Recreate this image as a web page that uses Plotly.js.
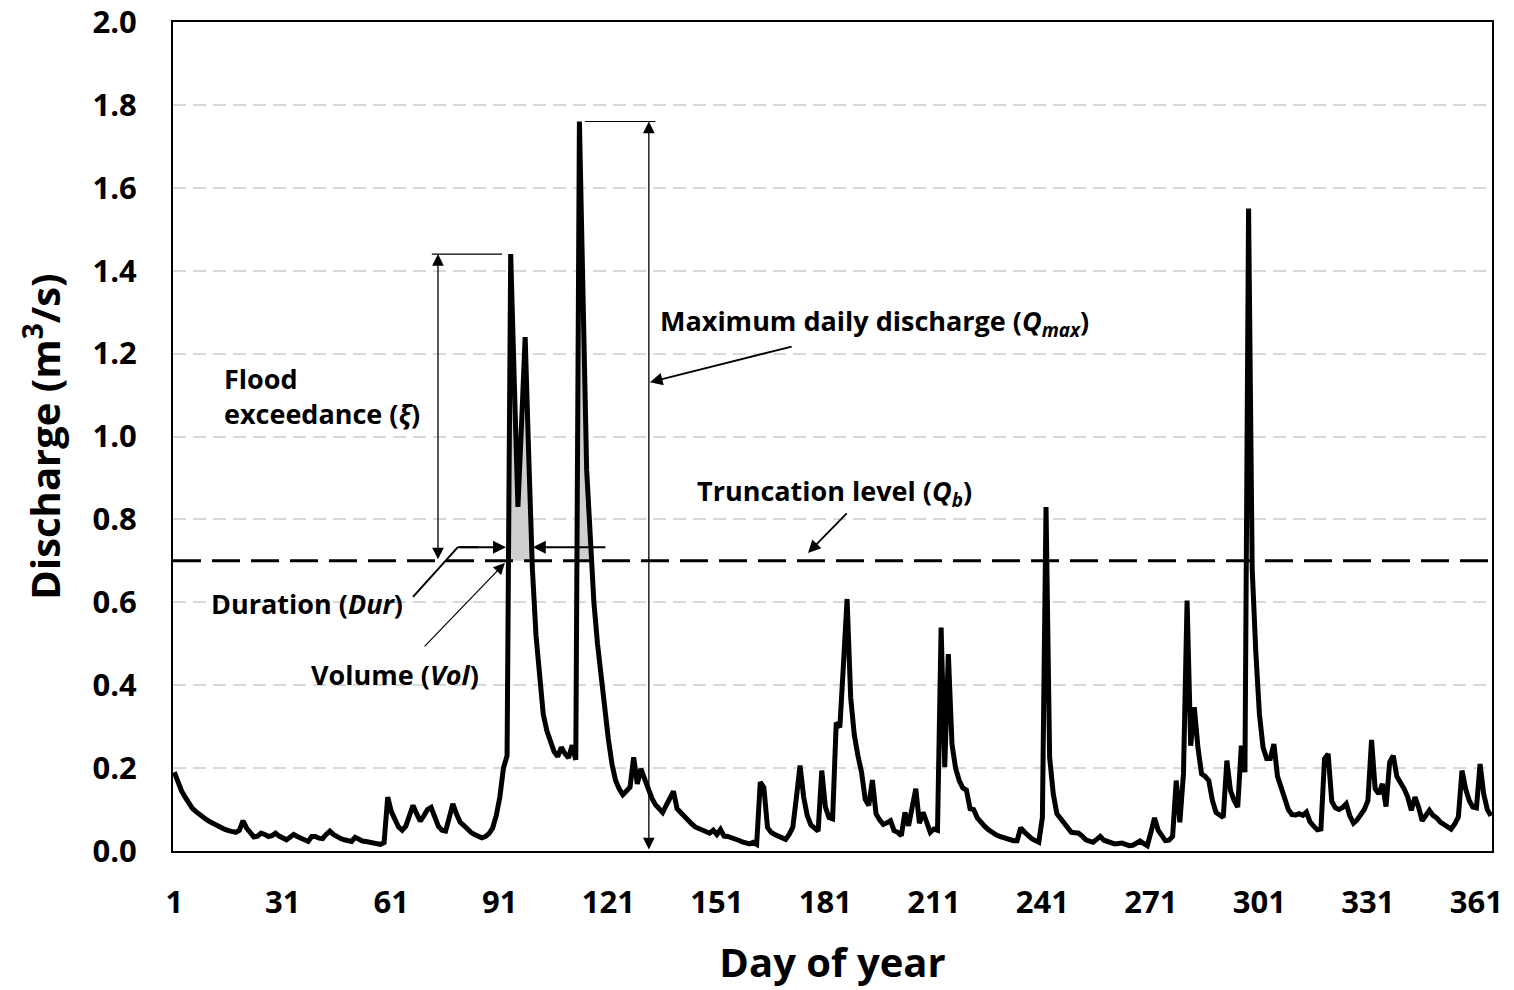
<!DOCTYPE html>
<html>
<head>
<meta charset="utf-8">
<script src="https://cdn.plot.ly/plotly-3.0.1.min.js"></script>
<style>
  html, body { margin: 0; padding: 0; background: #ffffff; }
  #chart { width: 1514px; height: 990px; }
</style>
</head>
<body>
<div id="chart"></div>
<script>
// ---- Data (daily discharge, m3/s, day 1..365) ----
const dischargeJanMar = [
  0.19,0.165,0.145,0.13,0.115,0.103,0.095,0.087,0.08,0.075,
  0.07,0.065,0.06,0.056,0.052,0.049,0.047,0.045,0.05,0.073,
  0.055,0.042,0.034,0.036,0.043,0.04,0.035,0.037,0.043,0.036,
  0.031,0.027,0.033,0.04,0.035,0.03,0.026,0.023,0.035,0.035,
  0.031,0.03,0.04,0.048,0.04,0.034,0.03,0.027,0.025,0.023,
  0.033,0.028,0.024,0.023,0.021,0.019,0.017,0.016,0.02,0.13,
  0.095,0.075,0.058,0.05,0.06,0.085,0.11,0.09,0.072,0.085,
  0.1,0.105,0.085,0.06,0.05,0.048,0.08,0.114,0.09,0.07,
  0.062,0.052,0.045,0.04,0.036,0.032,0.035,0.042,0.055,0.085
];
const dischargeAprJun = [
  0.13,0.2,0.23,1.44,1.13,0.83,1.03,1.24,0.95,0.68,
  0.52,0.42,0.33,0.29,0.265,0.24,0.228,0.25,0.235,0.225,
  0.255,0.22,1.76,1.3,0.92,0.76,0.6,0.5,0.42,0.34,
  0.27,0.21,0.17,0.15,0.136,0.145,0.154,0.226,0.162,0.198,
  0.175,0.145,0.128,0.112,0.1,0.093,0.11,0.13,0.144,0.102,
  0.092,0.083,0.075,0.066,0.058,0.054,0.051,0.049,0.043,0.05,
  0.04,0.052,0.036,0.035,0.033,0.03,0.026,0.022,0.019,0.017,
  0.021,0.016,0.166,0.153,0.057,0.045,0.04,0.035,0.031,0.028,
  0.04,0.057,0.13,0.206,0.13,0.085,0.063,0.055,0.048,0.194
];
const dischargeJulSep = [
  0.106,0.081,0.078,0.31,0.298,0.45,0.608,0.37,0.28,0.23,
  0.19,0.125,0.11,0.171,0.09,0.075,0.064,0.068,0.073,0.049,
  0.045,0.037,0.093,0.061,0.1,0.15,0.067,0.093,0.07,0.045,
  0.053,0.05,0.539,0.202,0.475,0.258,0.2,0.17,0.152,0.147,
  0.102,0.1,0.08,0.068,0.06,0.052,0.045,0.04,0.036,0.033,
  0.029,0.025,0.025,0.025,0.056,0.046,0.037,0.03,0.025,0.021,
  0.081,0.83,0.226,0.138,0.09,0.078,0.065,0.053,0.045,0.044,
  0.043,0.036,0.027,0.024,0.021,0.028,0.035,0.026,0.022,0.018,
  0.017,0.018,0.019,0.016,0.013,0.014,0.02,0.024,0.018,0.013
];
const dischargeOctDec = [
  0.045,0.08,0.05,0.035,0.025,0.026,0.035,0.17,0.069,0.186,
  0.604,0.254,0.347,0.25,0.186,0.18,0.17,0.122,0.093,0.087,
  0.081,0.218,0.146,0.122,0.106,0.254,0.19,1.55,0.68,0.48,
  0.33,0.25,0.223,0.223,0.258,0.18,0.15,0.12,0.1,0.088,
  0.087,0.09,0.086,0.094,0.07,0.06,0.051,0.053,0.222,0.234,
  0.12,0.104,0.1,0.105,0.114,0.085,0.067,0.075,0.088,0.1,
  0.122,0.268,0.15,0.138,0.162,0.107,0.214,0.23,0.18,0.166,
  0.15,0.13,0.098,0.13,0.106,0.073,0.085,0.098,0.086,0.08,
  0.07,0.065,0.058,0.053,0.065,0.082,0.194,0.15,0.122,0.106,
  0.104,0.21,0.138,0.1,0.085
];
const truncationLevel = 0.7;        // Qb
const xTickVals = [1,31,61,91,121,151,181,211,241,271,301,331,361];
const yTickVals = [0,0.2,0.4,0.6,0.8,1.0,1.2,1.4,1.6,1.8,2.0];

// ---- Build series ----
const discharge = dischargeJanMar.concat(dischargeAprJun, dischargeJulSep, dischargeOctDec);
const days = discharge.map((_, i) => i + 1);

const Qmax = Math.max(...discharge);
const dayQmax = days[discharge.indexOf(Qmax)];

// runs above truncation level
const runs = [];
let start = -1;
for (let i = 0; i < discharge.length; i++) {
  if (discharge[i] > truncationLevel) { if (start < 0) start = i; }
  else if (start >= 0) { runs.push([start, i - 1]); start = -1; }
}
if (start >= 0) runs.push([start, discharge.length - 1]);

// shaded volume for the first two events (illustrated)
const fillX = [], fillY = [];
runs.slice(0, 2).forEach(([a, b], k) => {
  const xl = days[a - 1] + (truncationLevel - discharge[a - 1]) / (discharge[a] - discharge[a - 1]);
  const xr = days[b] + (discharge[b] - truncationLevel) / (discharge[b] - discharge[b + 1]);
  if (k > 0) { fillX.push(null); fillY.push(null); }
  fillX.push(xl); fillY.push(truncationLevel);
  for (let i = a; i <= b; i++) { fillX.push(days[i]); fillY.push(discharge[i]); }
  fillX.push(xr); fillY.push(truncationLevel);
  fillX.push(xl); fillY.push(truncationLevel);
});
const firstPeak = Math.max(...discharge.slice(runs[0][0], runs[0][1] + 1));

const traces = [
  {
    x: fillX, y: fillY, type: 'scatter', mode: 'lines',
    fill: 'toself', fillcolor: '#cfcfcf',
    line: { width: 0, color: 'rgba(0,0,0,0)' },
    hoverinfo: 'skip', showlegend: false
  },
  {
    x: days, y: discharge, type: 'scatter', mode: 'lines',
    line: { color: '#000000', width: 5 },
    showlegend: false, name: 'Discharge'
  }
];

const FONT = '"Open Sans", Lato, "DejaVu Sans", sans-serif';
const annFont = { family: FONT, size: 27, color: '#000' };
const arrowBase = {
  text: '', showarrow: true, axref: 'x', ayref: 'y',
  arrowhead: 2, arrowsize: 1.8, arrowwidth: 1.3, arrowcolor: '#000',
  standoff: 0, startstandoff: 0
};

const annotations = [
  // Qmax
  Object.assign({}, arrowBase, { x: dayQmax + 19.2, y: Qmax, ax: dayQmax + 19.2, ay: 0,
    arrowside: 'end+start', startarrowhead: 2, startarrowsize: 1.8 }),
  Object.assign({}, arrowBase, { x: 132.5, y: 1.131, ax: 172.1, ay: 1.218, arrowwidth: 1.8, arrowsize: 1.4 }),
  { x: 134.7, y: 1.276, xanchor: 'left', yanchor: 'middle', showarrow: false,
    text: '<b>Maximum daily discharge (<i>Q<sub>max</sub></i>)</b>', font: annFont },
  // Flood exceedance
  Object.assign({}, arrowBase, { x: 73.9, y: firstPeak, ax: 73.9, ay: truncationLevel,
    arrowside: 'end+start', startarrowhead: 2, startarrowsize: 1.8 }),
  { x: 14.2, y: 1.097, xanchor: 'left', yanchor: 'middle', align: 'left', showarrow: false,
    text: '<b>Flood<br>exceedance (<i>ξ</i>)</b>', font: annFont },
  // Duration
  Object.assign({}, arrowBase, { x: 92.7, y: 0.733, ax: 79.4, ay: 0.733, arrowwidth: 2, arrowsize: 1.3 }),
  Object.assign({}, arrowBase, { x: 100.1, y: 0.733, ax: 120.6, ay: 0.733, arrowwidth: 2, arrowsize: 1.3 }),
  { x: 37.7, y: 0.598, xanchor: 'center', yanchor: 'middle', showarrow: false,
    text: '<b>Duration (<i>Dur</i>)</b>', font: annFont },
  // Volume
  Object.assign({}, arrowBase, { x: 92.4, y: 0.695, ax: 69.8, ay: 0.49, arrowwidth: 1.2, arrowsize: 1.9 }),
  { x: 62.0, y: 0.425, xanchor: 'center', yanchor: 'middle', showarrow: false,
    text: '<b>Volume (<i>Vol</i>)</b>', font: annFont },
  // Truncation level
  Object.assign({}, arrowBase, { x: 176.2, y: 0.719, ax: 187.3, ay: 0.818, arrowwidth: 1.8, arrowsize: 1.4 }),
  { x: 183.4, y: 0.864, xanchor: 'center', yanchor: 'middle', showarrow: false,
    text: '<b>Truncation level (<i>Q<sub>b</sub></i>)</b>', font: annFont }
];

const shapes = [
  { type: 'line', xref: 'paper', x0: 0, x1: 1, yref: 'y', y0: truncationLevel, y1: truncationLevel,
    line: { color: '#000', width: 3, dash: '28px,11px' } },
  { type: 'line', xref: 'x', yref: 'y', x0: dayQmax + 1.5, x1: dayQmax + 21, y0: Qmax, y1: Qmax,
    line: { color: '#000', width: 1.2 } },
  { type: 'line', xref: 'x', yref: 'y', x0: 72.2, x1: 91.6, y0: firstPeak, y1: firstPeak,
    line: { color: '#000', width: 1.2 } },
  { type: 'line', xref: 'x', yref: 'y', x0: 67.0, y0: 0.613, x1: 79.4, y1: 0.733,
    line: { color: '#000', width: 2 } },
  { type: 'line', xref: 'x', yref: 'y', x0: 79.4, y0: 0.733, x1: 85, y1: 0.733,
    line: { color: '#000', width: 2 } }
];

const layout = {
  width: 1514, height: 990,
  margin: { l: 173, r: 22, t: 22, b: 139 },
  paper_bgcolor: '#ffffff', plot_bgcolor: '#ffffff',
  font: { family: FONT, color: '#000' },
  showlegend: false,
  xaxis: {
    range: [0.64, 365.3],
    tickmode: 'array', tickvals: xTickVals, ticktext: xTickVals.map(String),
    tickfont: { family: FONT, size: 31, color: '#000', weight: 'bold' },
    ticks: '', ticklabelstandoff: 23, ticklabeloverflow: 'allow',
    showgrid: false, zeroline: false,
    showline: true, mirror: true, linecolor: '#000', linewidth: 2,
    title: { text: '<b>Day of year</b>', font: { family: FONT, size: 40, color: '#000' }, standoff: 28 }
  },
  yaxis: {
    range: [0, 2.0],
    tickmode: 'array', tickvals: yTickVals, ticktext: yTickVals.map(v => v.toFixed(1)),
    tickfont: { family: FONT, size: 31, color: '#000', weight: 'bold' },
    ticks: '', ticklabelstandoff: 28, ticklabeloverflow: 'allow',
    showgrid: true, gridcolor: '#d9d9d9', gridwidth: 2, griddash: '13px,7px',
    zeroline: false,
    showline: true, mirror: true, linecolor: '#000', linewidth: 2,
    title: { text: '<b>Discharge (m<sup>3</sup>/s)</b>', font: { family: FONT, size: 40, color: '#000' }, standoff: 20 }
  },
  annotations: annotations,
  shapes: shapes
};

Plotly.newPlot('chart', traces, layout, { staticPlot: true, displayModeBar: false });
</script>
</body>
</html>
